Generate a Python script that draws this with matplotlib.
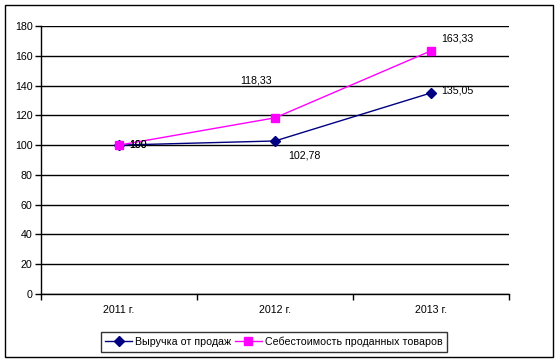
import numpy as np
import matplotlib.pyplot as plt
from matplotlib.patches import Rectangle

# Data
years = ["2011 г.", "2012 г.", "2013 г."]
revenue = [100, 102.78, 135.05]
cost = [100, 118.33, 163.33]
revenueLabels = ["100", "102,78", "135,05"]
costLabels = ["100", "118,33", "163,33"]
yTicks = [0, 20, 40, 60, 80, 100, 120, 140, 160, 180]

plt.rcParams['font.family'] = ['Liberation Sans', 'DejaVu Sans']
plt.rcParams['font.size'] = 7.7

fig = plt.figure(figsize=(5.58, 3.61), dpi=100)
ax = fig.add_axes([41/558, 1 - 294/361, 468/558, 268/361])

x = np.arange(len(years))
ax.plot(x, revenue, color="#000080", lw=1, marker="D", ms=5, label="Выручка от продаж", zorder=3)
ax.plot(x, cost, color="#FF00FF", lw=1, marker="s", ms=5.5, label="Себестоимость проданных товаров", zorder=3)

ax.set_xlim(-0.5, 2.5)
ax.set_ylim(0, 180)
ax.set_yticks(yTicks)
ax.yaxis.grid(True, color="black", lw=1)
ax.set_axisbelow(True)

# category labels centred, tick marks between categories
ax.set_xticks(x)
ax.set_xticklabels(years)
ax.tick_params(axis="x", length=0, pad=8)
ax.set_xticks([-0.5, 0.5, 1.5, 2.5], minor=True)
ax.tick_params(axis="x", which="minor", length=4, direction="out", width=1)
ax.tick_params(axis="y", length=4, direction="out", width=1, pad=2)

for side in ["top", "right"]:
    ax.spines[side].set_visible(False)
ax.spines["left"].set_linewidth(1)
ax.spines["bottom"].set_linewidth(1)

# data labels (offsets in pixels)
revOffsets = [(10, 0), (13, -15), (10, 2)]
costOffsets = [(10, 0), (-35, 37), (10, 12)]
for i in range(len(years)):
    ax.annotate(revenueLabels[i], (x[i], revenue[i]), textcoords="offset pixels",
                xytext=revOffsets[i], va="center", ha="left")
    ax.annotate(costLabels[i], (x[i], cost[i]), textcoords="offset pixels",
                xytext=costOffsets[i], va="center", ha="left")

leg = ax.legend(loc="center", bbox_to_anchor=(274/558, 1 - 342/361), bbox_transform=fig.transFigure,
                ncol=2, frameon=True, fancybox=False, edgecolor="black", borderpad=0.45,
                handlelength=2.5, handletextpad=0.3, columnspacing=0.3, borderaxespad=0)
leg.get_frame().set_linewidth(1)

# outer chart border
fig.patches.append(Rectangle((5/558, 4/361), 548/558, 352/361, transform=fig.transFigure,
                             fill=False, edgecolor="black", lw=1))

plt.savefig("out.png", dpi=100)
